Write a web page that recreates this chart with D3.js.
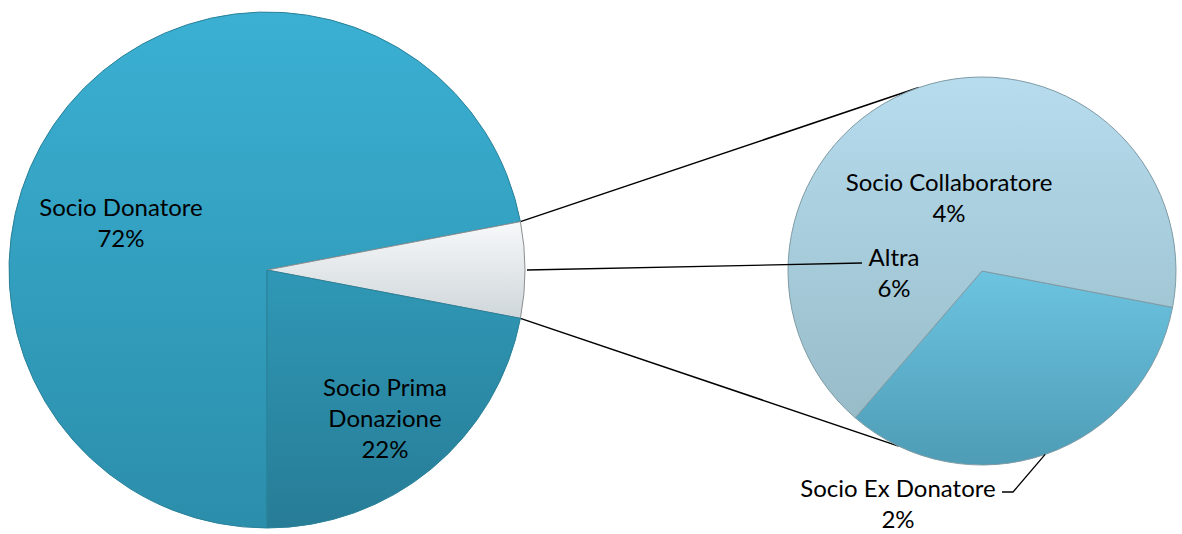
<!DOCTYPE html>
<html>
<head>
<meta charset="utf-8">
<script src="https://cdn.jsdelivr.net/npm/d3@7"></script>
<style>
  body { margin: 0; background: #fff; }
  svg text { font-family: Lato, "Open Sans", sans-serif; font-size: 24px; fill: #000; }
</style>
</head>
<body>
<svg width="1182" height="534"></svg>
<script>
// main pie: order is clockwise starting at 6 o'clock
var mainLabels = ["Socio Donatore", "Altra", "Socio Prima Donazione"];
var mainValues = [72, 6, 22];
var mainText = [["Socio Donatore", "72%"], ["Altra", "6%"], ["Socio Prima", "Donazione", "22%"]];

// second pie splits "Altra"
var subLabels = ["Socio Ex Donatore", "Socio Collaboratore"];
var subValues = [2, 4];
var subText = [["Socio Ex Donatore", "2%"], ["Socio Collaboratore", "4%"]];

var svg = d3.select("svg"),
    width = +svg.attr("width"),
    height = +svg.attr("height");

var defs = svg.append("defs");

function grad(id, c1, c2) {
    var g = defs.append("linearGradient").attr("id", id)
        .attr("x1", 0).attr("y1", 0).attr("x2", 0).attr("y2", 1);
    g.append("stop").attr("offset", "0%").attr("stop-color", c1);
    g.append("stop").attr("offset", "100%").attr("stop-color", c2);
}
grad("gDon", "#3bb0d3", "#2b8eab");
grad("gAlt", "#f7f9fa", "#cfd6da");
grad("gPri", "#2f98b6", "#277c96");
grad("gCol", "#b6dcee", "#98bcc8");
grad("gEx", "#6cc4e0", "#4e9cb6");

var mainFill = ["url(#gDon)", "url(#gAlt)", "url(#gPri)"];
var subFill = ["url(#gEx)", "url(#gCol)"];

var cx = 267, cy = 270, r = 258;
var sx = 982, sy = 271, sr = 194;

var pie = d3.pie().sort(null).value(function (d) { return d; });
var mainArcs = pie.startAngle(Math.PI).endAngle(3 * Math.PI)(mainValues);

// second pie starts where "Altra" ends in the main pie
var altEnd = mainArcs[1].endAngle - 2 * Math.PI;
var subArcs = d3.pie().sort(null).value(function (d) { return d; })
    .startAngle(altEnd).endAngle(altEnd + 2 * Math.PI)(subValues);

var arc = d3.arc().innerRadius(0).outerRadius(r);
var sarc = d3.arc().innerRadius(0).outerRadius(sr);

function pt(x, y, rad, a) {
    return [x + rad * Math.sin(a), y - rad * Math.cos(a)];
}

// connector lines between the pies
var altA = mainArcs[1];
var p1 = pt(cx, cy, r, altA.startAngle - 2 * Math.PI);
var p2 = pt(cx, cy, r, altA.endAngle - 2 * Math.PI);
var q1 = pt(sx, sy, sr, -19 * Math.PI / 180);
var q2 = pt(sx, sy, sr, 205.5 * Math.PI / 180);
svg.append("g").selectAll("line")
    .data([[p1, q1], [p2, q2]])
    .enter().append("line")
    .attr("x1", function (d) { return d[0][0]; })
    .attr("y1", function (d) { return d[0][1]; })
    .attr("x2", function (d) { return d[1][0]; })
    .attr("y2", function (d) { return d[1][1]; })
    .attr("stroke", "#000")
    .attr("stroke-width", 1.5);

var gMain = svg.append("g").attr("transform", "translate(" + cx + "," + cy + ")");
gMain.selectAll("path")
    .data(mainArcs)
    .enter().append("path")
    .attr("d", arc)
    .attr("fill", function (d, i) { return mainFill[i]; })
    .attr("stroke", function (d, i) { return i == 1 ? "#8c8f90" : "#2a8199"; })
    .attr("stroke-width", 1);

var gSub = svg.append("g").attr("transform", "translate(" + sx + "," + sy + ")");
gSub.selectAll("path")
    .data(subArcs)
    .enter().append("path")
    .attr("d", sarc)
    .attr("fill", function (d, i) { return subFill[i]; })
    .attr("stroke", "#7f9ba5")
    .attr("stroke-width", 1);

// leader lines
var altLeader = [[cx + r + 2, cy], [862, 263]];
var exLeader = [pt(sx, sy, sr, 161 * Math.PI / 180), [1013, 492], [1002, 492]];
svg.append("g").selectAll("path")
    .data([altLeader, exLeader])
    .enter().append("path")
    .attr("d", d3.line())
    .attr("fill", "none")
    .attr("stroke", "#000")
    .attr("stroke-width", 1.3);

// labels
var labelPos = [
    { lines: mainText[0], x: 121, y: 216 },
    { lines: mainText[2], x: 385, y: 396 },
    { lines: subText[1], x: 949, y: 191 },
    { lines: mainText[1], x: 894, y: 266 },
    { lines: subText[0], x: 898, y: 497 }
];
var lh = 31;
labelPos.forEach(function (l) {
    var t = svg.append("text")
        .attr("text-anchor", "middle")
        .attr("x", l.x).attr("y", l.y);
    l.lines.forEach(function (s, i) {
        t.append("tspan").attr("x", l.x).attr("dy", i == 0 ? 0 : lh).text(s);
    });
});
</script>
</body>
</html>
